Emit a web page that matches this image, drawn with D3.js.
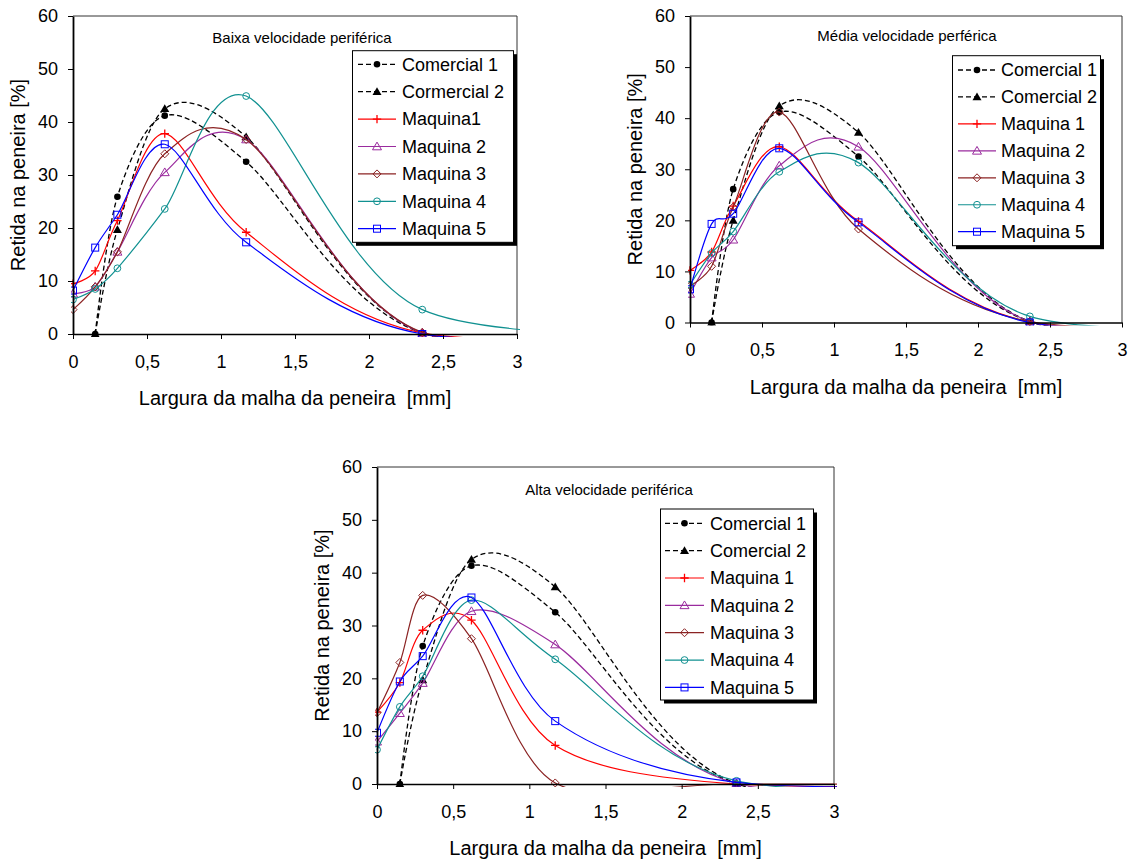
<!DOCTYPE html>
<html><head><meta charset="utf-8">
<script src="https://cdn.jsdelivr.net/npm/d3@7"></script>
<style>
body{margin:0;background:#fff}
svg{display:block}
text{font-family:"Liberation Sans", Arial, sans-serif; fill:#000; white-space:pre}
</style>
</head><body>
<svg id="c" width="1135" height="860"></svg>
<script>
// ---------- data ----------
const sieveSizes = [0, 0.15, 0.3, 0.62, 1.17, 2.36, 4.75];
const xTicks = [0, 0.5, 1, 1.5, 2, 2.5, 3];
const xTickLabels = ["0", "0,5", "1", "1,5", "2", "2,5", "3"];
const yTicks = [0, 10, 20, 30, 40, 50, 60];
const chartTitles = ["Baixa velocidade periférica", "Média velocidade perférica", "Alta velocidade periférica"];
const xAxisTitle = "Largura da malha da peneira  [mm]";
const yAxisTitle = "Retida na peneira [%]";
const seriesNamesBaixa = ["Comercial 1", "Cormercial 2", "Maquina1", "Maquina 2", "Maquina 3", "Maquina 4", "Maquina 5"];
const seriesNamesMedia = ["Comercial 1", "Comercial 2", "Maquina 1", "Maquina 2", "Maquina 3", "Maquina 4", "Maquina 5"];
const seriesNamesAlta = ["Comercial 1", "Comercial 2", "Maquina 1", "Maquina 2", "Maquina 3", "Maquina 4", "Maquina 5"];

// Baixa velocidade
const baixaComercial1 = [null, 0, 25.9, 41.2, 32.5, 0.2, 0];
const baixaComercial2 = [null, 0, 19.7, 42.5, 37.2, 0.2, 0];
const baixaMaquina1 = [9.5, 11.9, 21.4, 37.8, 19.2, 0.2, 0];
const baixaMaquina2 = [7.6, 8.9, 15.5, 30.5, 36.7, 0.2, 0];
const baixaMaquina3 = [4.6, 8.9, 15.5, 34.0, 36.7, 0.3, 0];
const baixaMaquina4 = [6.5, 8.5, 12.4, 23.6, 44.9, 4.6, 0];
const baixaMaquina5 = [8.2, 16.3, 22.5, 35.8, 17.3, 0.0, 0];

// Média velocidade
const mediaComercial1 = [null, 0, 26.1, 41.2, 32.5, 0.2, 0];
const mediaComercial2 = [null, 0, 20.0, 42.4, 37.2, 0.2, 0];
const mediaMaquina1 = [10.2, 13.8, 22.8, 34.4, 19.8, 0.1, 0];
const mediaMaquina2 = [5.6, 12.7, 16.2, 30.7, 34.4, 0.2, 0];
const mediaMaquina3 = [7.2, 11.0, 22.6, 41.2, 18.3, 0.2, 0];
const mediaMaquina4 = [7.4, 13.6, 17.8, 29.5, 31.3, 1.2, 0];
const mediaMaquina5 = [6.5, 19.3, 21.3, 34.1, 19.6, 0.0, 0];

// Alta velocidade
const altaComercial1 = [null, 0, 26.1, 41.3, 32.5, 0.0, 0];
const altaComercial2 = [null, 0, 19.7, 42.5, 37.3, 0.1, 0];
const altaMaquina1 = [13.6, 19.2, 29.1, 31.0, 7.3, 0.0, 0];
const altaMaquina2 = [8.0, 13.4, 19.1, 32.7, 26.4, 0.1, 0];
const altaMaquina3 = [13.5, 23.0, 35.7, 27.5, 0.2, 0.0, 0];
const altaMaquina4 = [6.5, 14.6, 20.4, 34.8, 23.6, 0.6, 0];
const altaMaquina5 = [9.7, 19.4, 24.2, 35.3, 11.9, 0.3, 0];

// ---------- styles ----------
const seriesStyles = [
  {color: "#000000", dash: "5,3", marker: "dot"},
  {color: "#000000", dash: "5,3", marker: "triFilled"},
  {color: "#ff0000", dash: null, marker: "plus"},
  {color: "#9a2b9e", dash: null, marker: "tri"},
  {color: "#8b2323", dash: null, marker: "diamond"},
  {color: "#119191", dash: null, marker: "circle"},
  {color: "#0000ff", dash: null, marker: "square"}
];

const charts = [
  {x0: 73, x1: 517, yTop: 16, yBot: 334, title: chartTitles[0], titleX: 302, titleY: 38,
   legend: {x: 352.5, y: 50.7, w: 161, h: 191.6, row0: 64.3, rowH: 27.4, lx0: 358, lx1: 396, tx: 402},
   names: seriesNamesBaixa,
   series: [baixaComercial1, baixaComercial2, baixaMaquina1, baixaMaquina2, baixaMaquina3, baixaMaquina4, baixaMaquina5]},
  {x0: 690, x1: 1122, yTop: 16, yBot: 322.5, title: chartTitles[1], titleX: 907, titleY: 36,
   legend: {x: 952.5, y: 55.7, w: 148, h: 190, row0: 70, rowH: 26.95, lx0: 958, lx1: 996, tx: 1001},
   names: seriesNamesMedia,
   series: [mediaComercial1, mediaComercial2, mediaMaquina1, mediaMaquina2, mediaMaquina3, mediaMaquina4, mediaMaquina5]},
  {x0: 377, x1: 834, yTop: 467, yBot: 784, title: chartTitles[2], titleX: 609, titleY: 490,
   legend: {x: 660.5, y: 509, w: 153, h: 191, row0: 523.3, rowH: 27.35, lx0: 665, lx1: 704, tx: 710},
   names: seriesNamesAlta,
   series: [altaComercial1, altaComercial2, altaMaquina1, altaMaquina2, altaMaquina3, altaMaquina4, altaMaquina5]}
];

const svg = d3.select("#c");

function drawMarker(g, type, color, cx, cy) {
  if (type === "dot") {
    g.append("circle").attr("cx", cx).attr("cy", cy).attr("r", 3.3).attr("fill", color);
  } else if (type === "triFilled") {
    g.append("path").attr("d", `M${cx},${cy-4.4}L${cx+4.5},${cy+3.3}L${cx-4.5},${cy+3.3}Z`).attr("fill", color);
  } else if (type === "plus") {
    g.append("path").attr("d", `M${cx-4.2},${cy}H${cx+4.2}M${cx},${cy-4.2}V${cy+4.2}`).attr("stroke", color).attr("stroke-width", 1.3).attr("fill", "none");
  } else if (type === "tri") {
    g.append("path").attr("d", `M${cx},${cy-4.4}L${cx+4.5},${cy+3.3}L${cx-4.5},${cy+3.3}Z`).attr("fill", "none").attr("stroke", color).attr("stroke-width", 1);
  } else if (type === "diamond") {
    g.append("path").attr("d", `M${cx},${cy-4}L${cx+4},${cy}L${cx},${cy+4}L${cx-4},${cy}Z`).attr("fill", "none").attr("stroke", color).attr("stroke-width", 1);
  } else if (type === "circle") {
    g.append("circle").attr("cx", cx).attr("cy", cy).attr("r", 3.4).attr("fill", "none").attr("stroke", color).attr("stroke-width", 1);
  } else if (type === "square") {
    g.append("rect").attr("x", cx-3.5).attr("y", cy-3.5).attr("width", 7).attr("height", 7).attr("fill", "none").attr("stroke", color).attr("stroke-width", 1);
  }
}

charts.forEach((c, ci) => {
  const x = d3.scaleLinear().domain([0, 3]).range([c.x0, c.x1]);
  const y = d3.scaleLinear().domain([0, 60]).range([c.yBot, c.yTop]);
  const g = svg.append("g");

  // plot frame (top & right)
  g.append("line").attr("x1", c.x0).attr("x2", c.x1).attr("y1", c.yTop).attr("y2", c.yTop).attr("stroke", "#333").attr("stroke-width", 1);
  g.append("line").attr("x1", c.x1).attr("x2", c.x1).attr("y1", c.yTop).attr("y2", c.yBot).attr("stroke", "#333").attr("stroke-width", 1);

  // clip
  const clipId = "clip" + ci;
  svg.append("clipPath").attr("id", clipId).append("rect")
    .attr("x", c.x0 - 2).attr("y", c.yTop).attr("width", c.x1 - c.x0 + 5).attr("height", c.yBot - c.yTop + 3);

  const line = d3.line()
    .defined(d => d[1] !== null)
    .x(d => x(d[0])).y(d => y(d[1]))
    .curve(d3.curveCardinal.tension(0.1));

  const plotG = g.append("g").attr("clip-path", `url(#${clipId})`);
  c.series.forEach((vals, si) => {
    const st = seriesStyles[si];
    const pts = sieveSizes.map((s, i) => [s, vals[i]]);
    plotG.append("path").attr("d", line(pts)).attr("fill", "none")
      .attr("stroke", st.color).attr("stroke-width", st.dash ? 1.3 : 1.2)
      .attr("stroke-dasharray", st.dash);
    pts.forEach(p => {
      if (p[1] !== null && p[0] <= 3) drawMarker(plotG, st.marker, st.color, x(p[0]), y(p[1]));
    });
  });

  // axes
  const xAxis = d3.axisBottom(x).tickValues(xTicks).tickFormat((d, i) => xTickLabels[i]).tickSize(5).tickSizeOuter(0);
  const gx = g.append("g").attr("transform", `translate(0,${c.yBot})`).call(xAxis);
  gx.select(".domain").attr("stroke", "#000").attr("stroke-width", 1.6);
  gx.selectAll(".tick line").attr("stroke", "#000");
  gx.selectAll(".tick text").attr("font-size", 18).attr("font-family", "Liberation Sans, Arial, sans-serif").attr("y", 21).attr("dy", "0.71em");

  const yAxis = d3.axisLeft(y).tickValues(yTicks).tickSize(5).tickSizeOuter(0);
  const gy = g.append("g").attr("transform", `translate(${c.x0},0)`).call(yAxis);
  gy.select(".domain").attr("stroke", "#000").attr("stroke-width", 1.8);
  gy.selectAll(".tick line").attr("stroke", "#000");
  gy.selectAll(".tick text").attr("font-size", 18).attr("font-family", "Liberation Sans, Arial, sans-serif").attr("x", -15);

  // titles
  g.append("text").attr("x", c.titleX).attr("y", c.titleY).attr("dy", "0.35em").attr("text-anchor", "middle")
    .attr("font-size", 15).text(c.title);
  g.append("text").attr("x", (c.x0 + c.x1) / 2).attr("y", c.yBot + 64).attr("dy", "0.35em").attr("text-anchor", "middle")
    .attr("font-size", 20).attr("xml:space", "preserve").text(xAxisTitle);
  const ycx = c.x0 - 55, ycy = (c.yTop + c.yBot) / 2;
  g.append("text").attr("transform", `translate(${ycx},${ycy}) rotate(-90)`).attr("dy", "0.35em").attr("text-anchor", "middle")
    .attr("font-size", 20).text(yAxisTitle);

  // legend
  const L = c.legend;
  const lg = g.append("g");
  lg.append("rect").attr("x", L.x + 3.5).attr("y", L.y + 3.5).attr("width", L.w).attr("height", L.h).attr("fill", "#000");
  lg.append("rect").attr("x", L.x).attr("y", L.y).attr("width", L.w).attr("height", L.h).attr("fill", "#fff").attr("stroke", "#000").attr("stroke-width", 1);
  c.names.forEach((name, si) => {
    const st = seriesStyles[si];
    const ry = L.row0 + si * L.rowH;
    lg.append("line").attr("x1", L.lx0).attr("x2", L.lx1).attr("y1", ry).attr("y2", ry)
      .attr("stroke", st.color).attr("stroke-width", st.dash ? 1.3 : 1.2).attr("stroke-dasharray", st.dash);
    drawMarker(lg, st.marker, st.color, (L.lx0 + L.lx1) / 2, ry);
    lg.append("text").attr("x", L.tx).attr("y", ry).attr("dy", "0.35em").attr("font-size", 18).text(name);
  });
});
</script>
</body></html>
